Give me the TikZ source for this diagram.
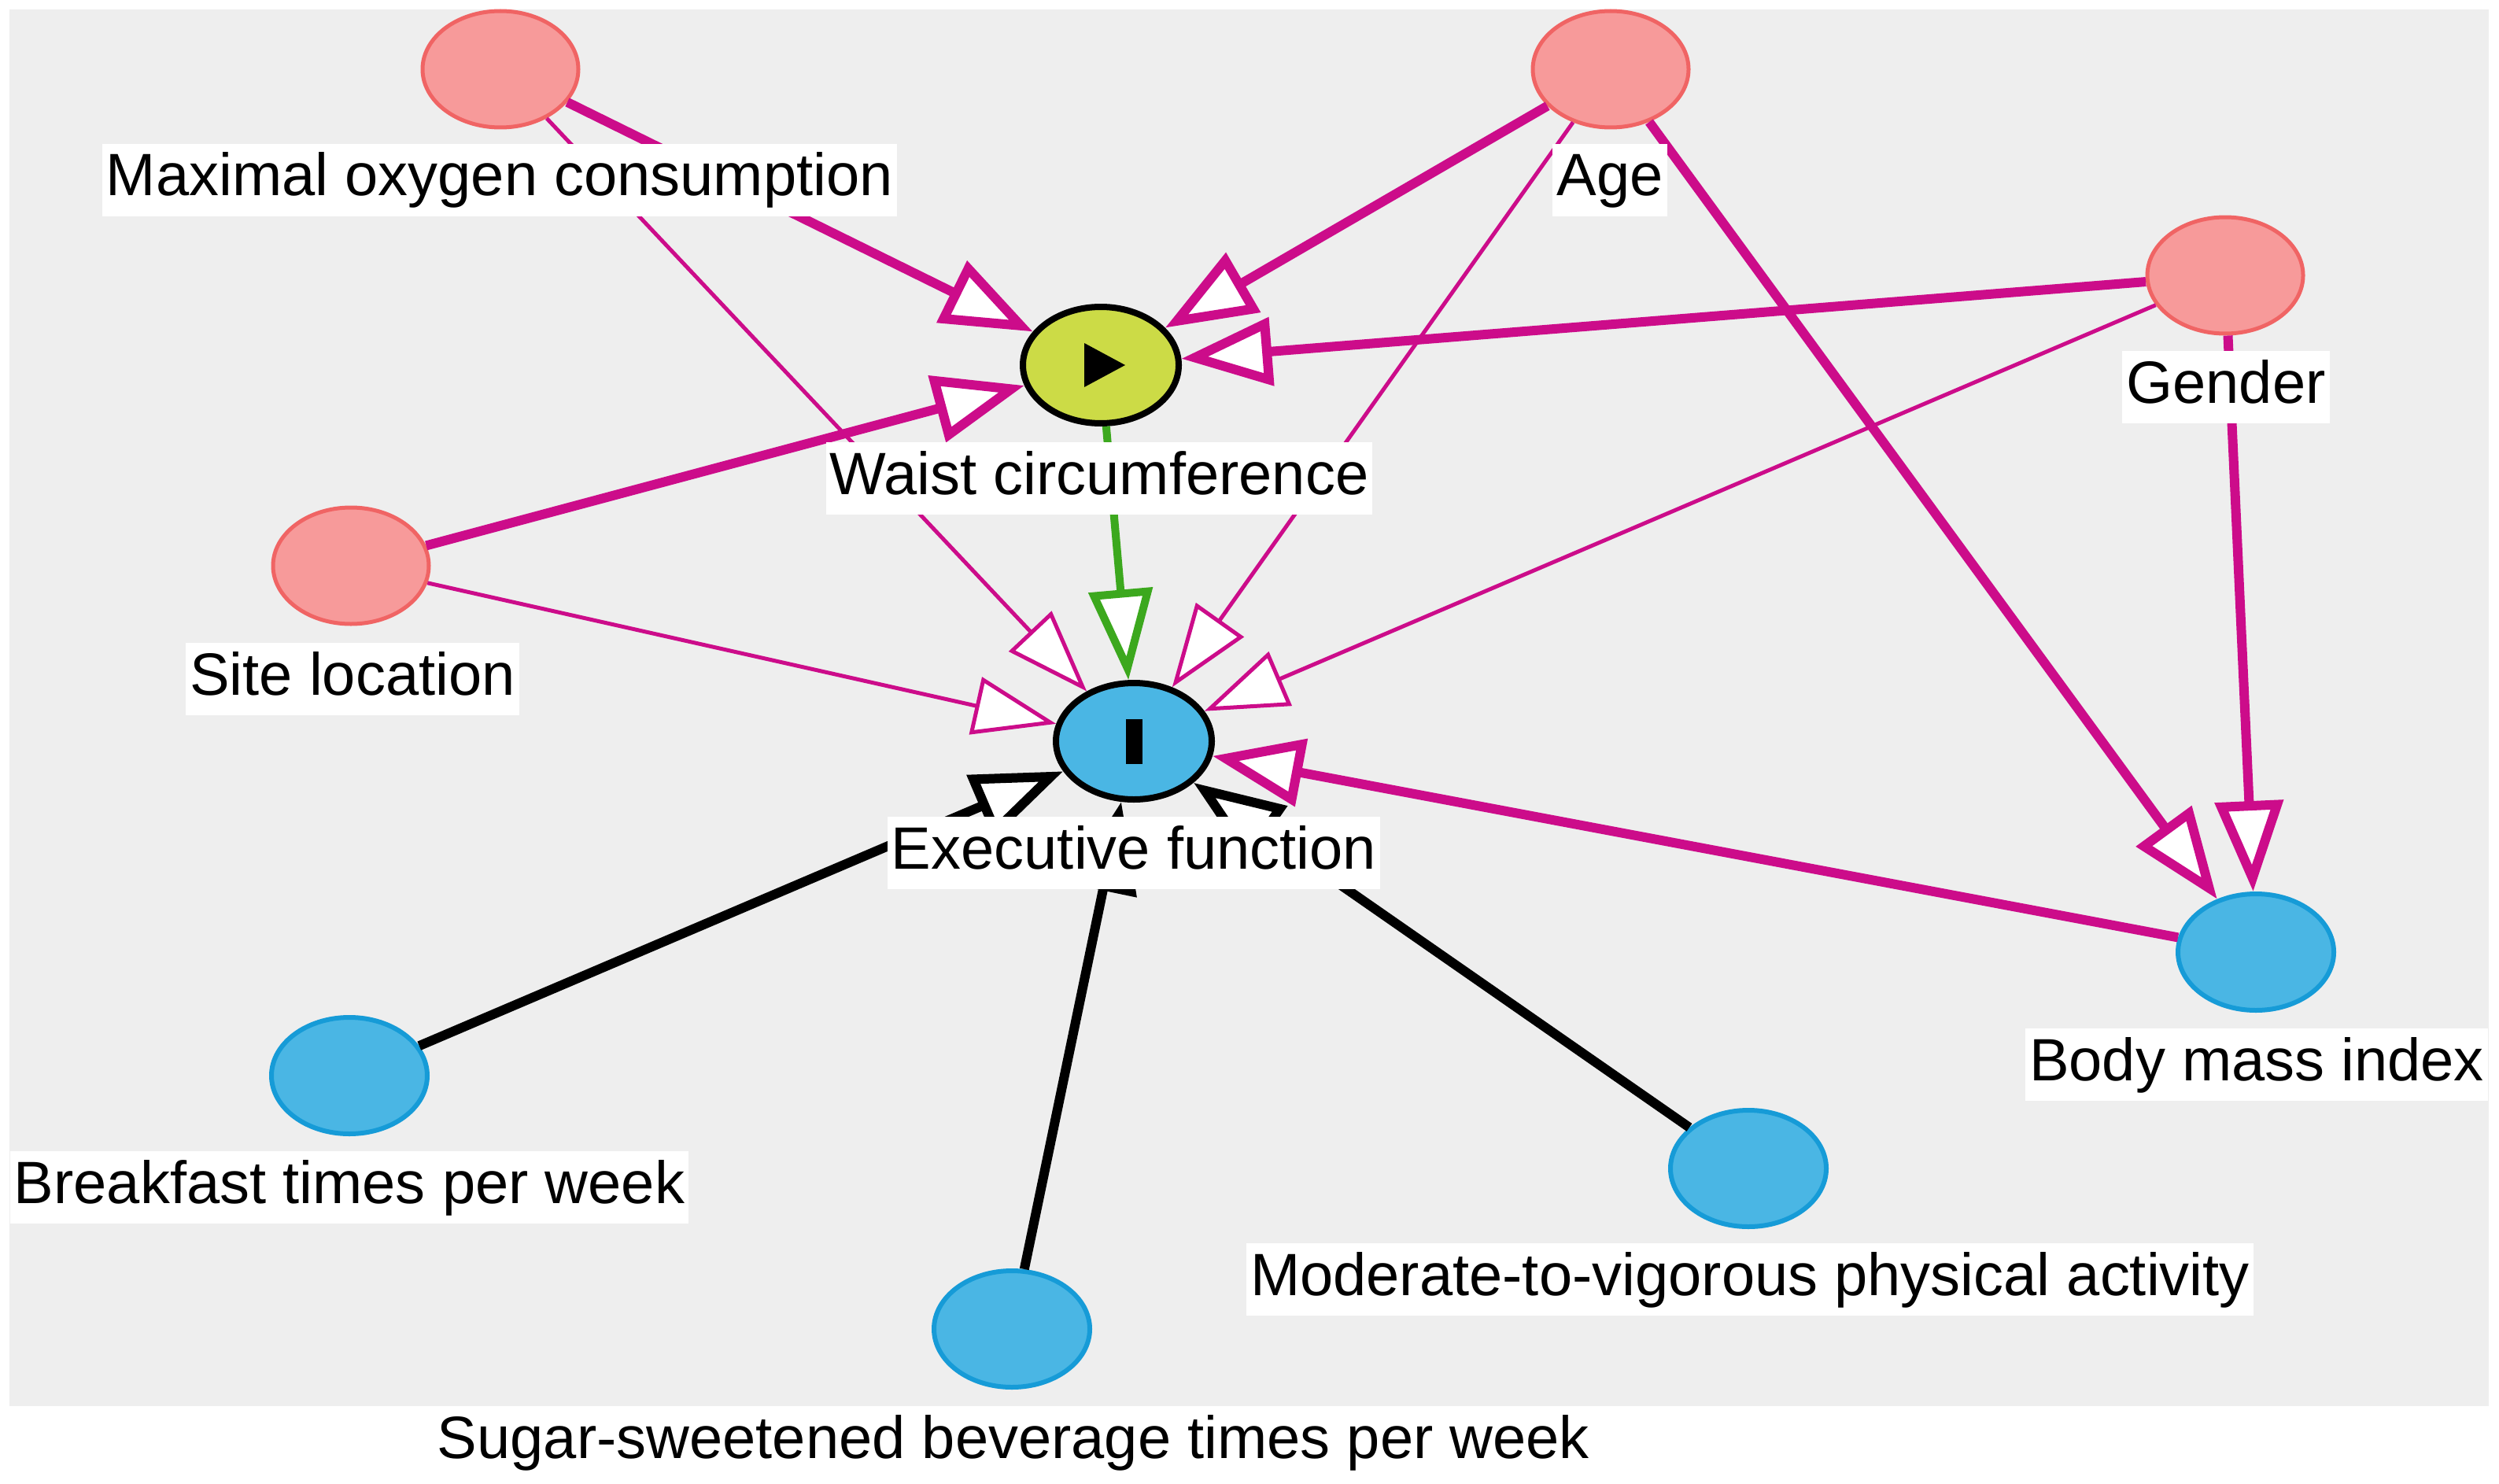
\documentclass[tikz,border=0pt]{standalone}
\usepackage{fontspec}
\setmainfont{Liberation Sans}
\usetikzlibrary{arrows.meta,shapes.geometric}
\definecolor{bggray}{HTML}{EEEEEE}
\definecolor{conffill}{RGB}{247,154,154}
\definecolor{confline}{RGB}{240,100,100}
\definecolor{ancfill}{RGB}{74,182,228}
\definecolor{ancline}{RGB}{22,155,215}
\definecolor{expofill}{RGB}{204,219,70}
\definecolor{pinkc}{RGB}{204,12,138}
\definecolor{greenc}{RGB}{60,168,30}
\begin{document}
\begin{tikzpicture}[
  var/.style={ellipse, minimum width=1.98cm, minimum height=1.48cm, inner sep=0pt},
  conf/.style={var, draw=confline, fill=conffill, line width=0.05cm},
  anc/.style={var, draw=ancline, fill=ancfill, line width=0.06cm},
  expo/.style={var, draw=black, fill=expofill, line width=0.08cm},
  outc/.style={var, draw=black, fill=ancfill, line width=0.08cm},
  lbl/.style={fill=white, inner xsep=0.05cm, inner ysep=0.1cm, text height=0.56cm, text depth=0.16cm,
    font=\fontsize{21.6pt}{26pt}\selectfont},
  bthick/.style={draw=pinkc, line width=0.12cm, -{Triangle[fill=white,length=1.15cm,width=0.85cm]}},
  bthin/.style={draw=pinkc, line width=0.05cm, -{Triangle[fill=white,length=1.05cm,width=0.74cm]}},
  causal/.style={draw=greenc, line width=0.1cm, -{Triangle[fill=white,length=1.15cm,width=0.8cm]}},
  blk/.style={draw=black, line width=0.12cm, -{Triangle[fill=white,length=1.15cm,width=0.85cm]}}
]
\fill[white] (0,0) rectangle (31.76,-18.85);
\useasboundingbox (0,0) rectangle (31.76,-18.85);
\fill[bggray] (0.12,-0.12) rectangle (31.63,-17.87);

% nodes
\node[conf] (moc) at (6.36,-0.88) {};
\node[conf] (age) at (20.47,-0.88) {};
\node[conf] (gender) at (28.28,-3.50) {};
\node[conf] (site) at (4.46,-7.19) {};
\node[expo] (wc) at (13.99,-4.64) {};
\node[outc] (ef) at (14.41,-9.42) {};
\node[anc] (bmi) at (28.67,-12.10) {};
\node[anc] (bf) at (4.44,-13.67) {};
\node[anc] (ssb) at (12.86,-16.89) {};
\node[anc] (mvpa) at (22.22,-14.85) {};

\fill[shift={(wc.center)}] (-0.21,0.28) -- (0.31,0) -- (-0.21,-0.28) -- cycle;
\fill[shift={(ef.center)}] (-0.10,0.28) rectangle (0.11,-0.29);

% edges
\draw[bthick] (moc) -- (wc);
\draw[bthin] (moc) -- (ef);
\draw[bthick] (age) -- (wc);
\draw[bthin] (age) -- (ef);
\draw[bthick] (age) -- (bmi);
\draw[bthick] (gender) -- (wc);
\draw[bthin] (gender) -- (ef);
\draw[bthick] (gender) -- (bmi);
\draw[bthick] (site) -- (wc);
\draw[bthin] (site) -- (ef);
\draw[causal] (wc) -- (ef);
\draw[bthick] (bmi) -- (ef);
\draw[blk] (bf) -- (ef);
\draw[blk] (ssb) -- (ef);
\draw[blk] (mvpa) -- (ef);

% labels
\node[lbl] (lmoc) at (6.35,-2.29) {Maximal oxygen consumption};
\node[lbl] (lage) at (20.46,-2.29) {Age};
\node[lbl] (lgender) at (28.29,-4.92) {Gender};
\node[lbl] (lsite) at (4.48,-8.63) {Site location};
\node[lbl] (lwc) at (13.97,-6.08) {Waist circumference};
\node[lbl] (lef) at (14.41,-10.84) {Executive function};
\node[lbl] (lbmi) at (28.68,-13.53) {Body mass index};
\node[lbl] (lbf) at (4.44,-15.09) {Breakfast times per week};
\node[lbl] (lmvpa) at (22.24,-16.26) {Moderate-to-vigorous physical activity};
\node[lbl] (lssb) at (12.88,-18.33) {Sugar-sweetened beverage times per week};
\end{tikzpicture}
\end{document}
